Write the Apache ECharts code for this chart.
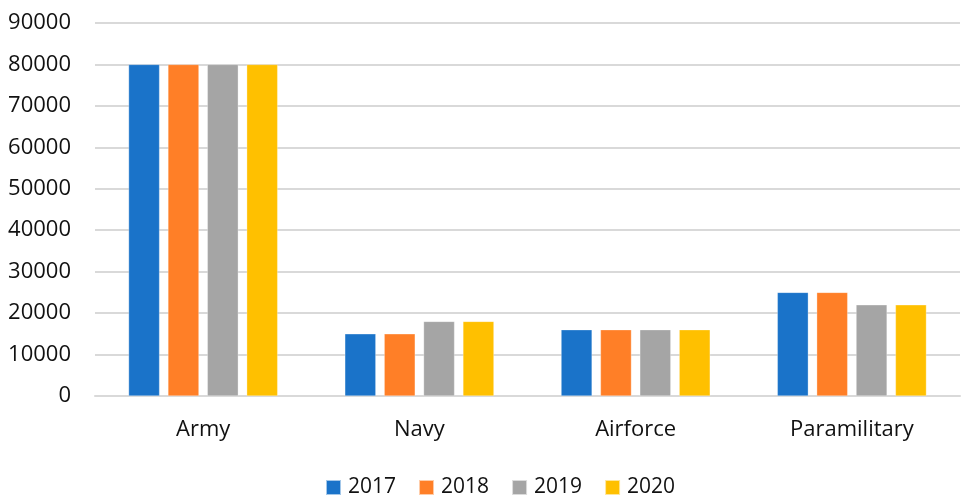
<!DOCTYPE html>
<html>
<head>
<meta charset="utf-8">
<script src="https://cdn.jsdelivr.net/npm/echarts@6/dist/echarts.min.js"></script>
<style>
  html, body { margin: 0; padding: 0; background: #fff; }
  #chart { width: 961px; height: 495px; }
</style>
</head>
<body>
<div id="chart"></div>
<script>
// Personnel strength by branch, 2017-2020
const categories = ['Army', 'Navy', 'Airforce', 'Paramilitary'];
const years = ['2017', '2018', '2019', '2020'];
const values2017 = [80000, 15000, 16000, 25000];
const values2018 = [80000, 15000, 16000, 25000];
const values2019 = [80000, 18000, 16000, 22000];
const values2020 = [80000, 18000, 16000, 22000];
const seriesValues = [values2017, values2018, values2019, values2020];
const colors = ['#1a73c9', '#ff7f27', '#a5a5a5', '#ffc000'];

const font = '"Open Sans", "Liberation Sans", sans-serif';
const chart = echarts.init(document.getElementById('chart'));
chart.setOption({
  animation: false,
  color: colors,
  textStyle: { fontFamily: font },
  grid: { left: 95, right: 1, top: 23, bottom: 99 },
  legend: {
    top: 472,
    left: 320,
    itemWidth: 15,
    itemHeight: 15,
    itemGap: 22,
    icon: 'rect',
    textStyle: { fontSize: 21, color: '#111', fontFamily: font, padding: [0, 0, 0, 2] }
  },
  xAxis: {
    type: 'category',
    data: categories,
    axisLine: { lineStyle: { color: '#d9d9d9', width: 2 } },
    axisTick: { show: false },
    axisLabel: { fontSize: 22, color: '#111', margin: 23, fontFamily: font }
  },
  yAxis: {
    type: 'value',
    min: 0,
    max: 90000,
    interval: 10000,
    axisLine: { show: false },
    axisTick: { show: false },
    splitLine: { lineStyle: { color: '#d9d9d9', width: 2 } },
    axisLabel: { fontSize: 22, color: '#111', margin: 24, fontFamily: font, formatter: v => String(v) }
  },
  series: years.map((y, i) => ({
    name: y,
    type: 'bar',
    data: seriesValues[i],
    barWidth: 31,
    barGap: '27%',
    itemStyle: { borderColor: 'rgba(255,255,255,0.6)', borderWidth: 0.5 }
  }))
});
</script>
</body>
</html>
